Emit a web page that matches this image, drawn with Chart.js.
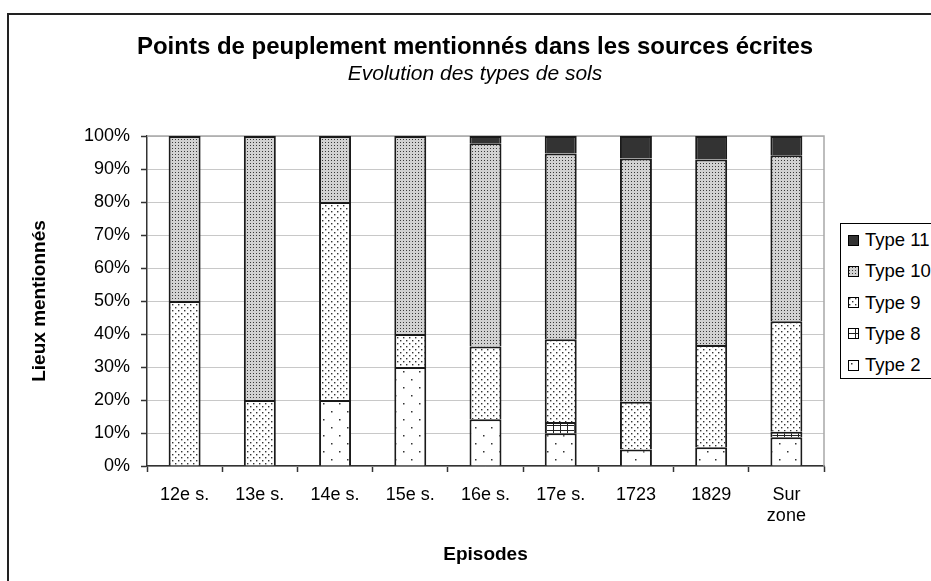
<!DOCTYPE html>
<html>
<head>
<meta charset="utf-8">
<script src="https://cdn.jsdelivr.net/npm/chart.js@4.4.0/dist/chart.umd.min.js"></script>
<style>
    html, body { margin: 0; padding: 0; background: #fff; overflow: hidden; }
    #wrap { position: relative; width: 931px; height: 581px; overflow: hidden; }
    #chart { position: absolute; left: 0; top: 0; }
    #legend {
        position: absolute; left: 840px; top: 223px; width: 110px; height: 154px;
        border: 1px solid #000; background: #fff;
        font-family: 'Liberation Sans', Arial, sans-serif; font-size: 18.5px; color: #000;
    }
    #legend canvas { position: absolute; left: 7px; }
    #legend span { position: absolute; left: 24px; height: 22px; line-height: 22px; white-space: nowrap; }
</style>
</head>
<body>
<div id="wrap">
    <canvas id="chart" width="950" height="581"></canvas>
    <div id="legend"></div>
</div>
<script>
(function() {
    'use strict';

    const categories = ['12e s.', '13e s.', '14e s.', '15e s.', '16e s.', '17e s.', '1723', '1829', ['Sur', 'zone']];
    const type2  = [0,  0,  20, 30, 14.2, 9.9,  5.0,  5.7,  8.7];
    const type8  = [0,  0,  0,  0,  0,    3.4,  0,    0,    1.7];
    const type9  = [50, 20, 60, 10, 22.0, 25.1, 14.5, 31.0, 33.5];
    const type10 = [50, 80, 20, 60, 61.6, 56.3, 73.7, 56.2, 50.3];
    const type11 = [0,  0,  0,  0,  2.2,  5.3,  6.8,  7.1,  5.8];

    const FONT = "'Liberation Sans', Arial, sans-serif";

    // little tiles imitating the old black & white fills
    function makeTile(kind) {
        const c = document.createElement('canvas');
        const g = c.getContext('2d');
        if (kind === 'type2') {
            c.width = 16; c.height = 16;
            g.fillStyle = '#fff'; g.fillRect(0, 0, 16, 16);
            g.fillStyle = '#333';
            g.fillRect(3, 3, 1.5, 1.5);
            g.fillRect(11, 11, 1.5, 1.5);
        } else if (kind === 'type8') {
            c.width = 7; c.height = 5;
            g.fillStyle = '#fff'; g.fillRect(0, 0, 7, 5);
            g.fillStyle = '#222';
            g.fillRect(0, 0, 7, 1);
            g.fillRect(0, 0, 1, 5);
        } else if (kind === 'type9') {
            c.width = 6; c.height = 6;
            g.fillStyle = '#fff'; g.fillRect(0, 0, 6, 6);
            g.fillStyle = '#333';
            g.fillRect(1, 1, 1.4, 1.4);
            g.fillRect(4, 4, 1.4, 1.4);
        } else if (kind === 'type10') {
            c.width = 3; c.height = 3;
            g.fillStyle = '#d2d2d2'; g.fillRect(0, 0, 3, 3);
            g.fillStyle = '#3a3a3a';
            g.fillRect(1, 1, 1, 1);
        } else {
            c.width = 2; c.height = 2;
            g.fillStyle = '#333'; g.fillRect(0, 0, 2, 2);
        }
        return c;
    }

    const canvas = document.getElementById('chart');
    const ctx = canvas.getContext('2d');
    const fills = {};
    ['type2', 'type8', 'type9', 'type10', 'type11'].forEach(function(k) {
        fills[k] = ctx.createPattern(makeTile(k), 'repeat');
    });

    function ds(label, data, key) {
        return {
            label: label,
            data: data,
            backgroundColor: fills[key],
            borderColor: '#1a1a1a',
            borderWidth: 2,
            borderSkipped: 'start',
            inflateAmount: 0,
            categoryPercentage: 0.425,
            barPercentage: 1
        };
    }

    const framePlugin = {
        id: 'frame',
        beforeDraw: function(chart) {
            const c = chart.ctx;
            c.save();
            c.fillStyle = '#fff';
            c.fillRect(0, 0, chart.width, chart.height);
            c.strokeStyle = '#222';
            c.lineWidth = 2;
            c.strokeRect(8, 14, 934, 640);
            c.restore();
        },
        beforeDatasetsDraw: function(chart) {
            const a = chart.chartArea;
            const c = chart.ctx;
            c.save();
            c.strokeStyle = '#a8a8a8';
            c.lineWidth = 1.5;
            c.beginPath();
            c.moveTo(a.left, a.top);
            c.lineTo(a.right, a.top);
            c.lineTo(a.right, a.bottom);
            c.stroke();
            c.restore();
        }
    };

    new Chart(ctx, {
        type: 'bar',
        data: {
            labels: categories,
            datasets: [
                ds('Type 2', type2, 'type2'),
                ds('Type 8', type8, 'type8'),
                ds('Type 9', type9, 'type9'),
                ds('Type 10', type10, 'type10'),
                ds('Type 11', type11, 'type11')
            ]
        },
        options: {
            responsive: false,
            animation: false,
            layout: { padding: 0 },
            plugins: {
                legend: { display: false },
                tooltip: { enabled: false },
                title: {
                    display: true,
                    text: 'Points de peuplement mentionnés dans les sources écrites',
                    color: '#000',
                    font: { family: FONT, size: 24, weight: 'bold' },
                    padding: { top: 33, bottom: 0 }
                },
                subtitle: {
                    display: true,
                    text: 'Evolution des types de sols',
                    color: '#000',
                    font: { family: FONT, size: 21, style: 'italic' },
                    padding: { top: 0, bottom: 49 }
                }
            },
            scales: {
                x: {
                    stacked: true,
                    grid: { offset: true, drawOnChartArea: false, tickLength: 6, tickColor: '#333', tickWidth: 1.5 },
                    border: { color: '#333', width: 1.5 },
                    ticks: { color: '#000', font: { family: FONT, size: 18 }, padding: 12, maxRotation: 0, autoSkip: false },
                    title: {
                        display: true, text: 'Episodes', color: '#000',
                        font: { family: FONT, size: 19, weight: 'bold' },
                        padding: { top: 0, bottom: 14.6 }
                    },
                    afterFit: function(s) { s.height = 115; }
                },
                y: {
                    stacked: true,
                    min: 0,
                    max: 100,
                    grid: { color: '#c8c8c8', lineWidth: 1, tickLength: 6, tickColor: '#333', tickWidth: 1.5 },
                    border: { color: '#333', width: 1.5 },
                    ticks: {
                        stepSize: 10,
                        color: '#000',
                        font: { family: FONT, size: 18 },
                        padding: 11,
                        callback: function(v) { return v + '%'; }
                    },
                    title: {
                        display: true, text: 'Lieux mentionnés', color: '#000',
                        font: { family: FONT, size: 19, weight: 'bold' },
                        padding: { top: 28.6, bottom: 0 }
                    },
                    afterFit: function(s) { s.width = 147; }
                },
                spacer: {
                    type: 'linear',
                    position: 'right',
                    grid: { display: false },
                    border: { display: false },
                    ticks: { display: false },
                    afterFit: function(s) { s.width = 126; }
                }
            }
        },
        plugins: [framePlugin]
    });

    // legend, top entry first like the original
    const legend = document.getElementById('legend');
    const entries = [['Type 11', 'type11'], ['Type 10', 'type10'], ['Type 9', 'type9'], ['Type 8', 'type8'], ['Type 2', 'type2']];
    entries.forEach(function(e, i) {
        const cy = 16 + i * 31.25;
        const sw = document.createElement('canvas');
        sw.width = 11; sw.height = 11;
        sw.style.top = (cy - 5.5) + 'px';
        const g = sw.getContext('2d');
        g.fillStyle = g.createPattern(makeTile(e[1]), 'repeat');
        g.fillRect(0, 0, 11, 11);
        g.strokeStyle = '#000';
        g.lineWidth = 1;
        g.strokeRect(0.5, 0.5, 10, 10);
        legend.appendChild(sw);
        const t = document.createElement('span');
        t.textContent = e[0];
        t.style.top = (cy - 11) + 'px';
        legend.appendChild(t);
    });
})();
</script>
</body>
</html>
